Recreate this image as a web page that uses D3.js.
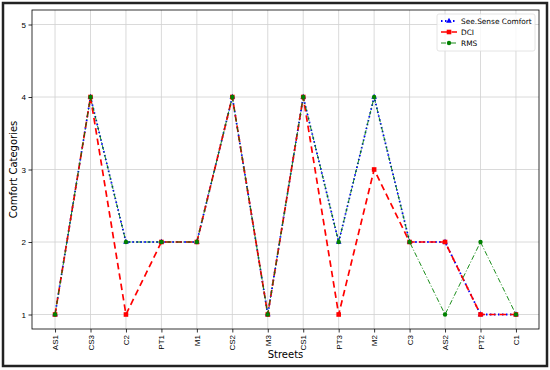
<!DOCTYPE html>
<html>
<head>
<meta charset="utf-8">
<script src="https://cdn.jsdelivr.net/npm/d3@7"></script>
<style>
  body { margin: 0; background: #fff; }
  svg { font-family: "DejaVu Sans", sans-serif; }
</style>
</head>
<body>
<script>
var streets = ["AS1", "CS3", "C2", "PT1", "M1", "CS2", "M3", "CS1", "PT3", "M2", "C3", "AS2", "PT2", "C1"];
var seeSense = [1, 4, 2, 2, 2, 4, 1, 4, 2, 4, 2, 2, 1, 1];
var dci = [1, 4, 1, 2, 2, 4, 1, 4, 1, 3, 2, 2, 1, 1];
var rms = [1, 4, 2, 2, 2, 4, 1, 4, 2, 4, 2, 1, 2, 1];
var yTicks = [1, 2, 3, 4, 5];

var width = 550, height = 370;
var margin = {left: 32, right: 11, top: 10, bottom: 41};

var svg = d3.select("body").append("svg")
    .attr("width", width)
    .attr("height", height);

// outer frame
svg.append("rect")
    .attr("x", 3).attr("y", 3)
    .attr("width", width - 6).attr("height", height - 7)
    .attr("fill", "none")
    .attr("stroke", "#222")
    .attr("stroke-width", 2.5);

var x = d3.scaleLinear()
    .domain([-0.65, streets.length - 1 + 0.65])
    .range([margin.left, width - margin.right]);
var y = d3.scaleLinear()
    .domain([0.8, 5.2])
    .range([height - margin.bottom, margin.top]);

var g = svg.append("g");

// grid
g.selectAll("line.vgrid").data(streets).enter().append("line")
    .attr("x1", function (d, i) { return x(i); })
    .attr("x2", function (d, i) { return x(i); })
    .attr("y1", y.range()[0]).attr("y2", y.range()[1])
    .attr("stroke", "#d0d0d0").attr("stroke-width", 0.8);
g.selectAll("line.hgrid").data(yTicks).enter().append("line")
    .attr("y1", function (d) { return y(d); })
    .attr("y2", function (d) { return y(d); })
    .attr("x1", x.range()[0]).attr("x2", x.range()[1])
    .attr("stroke", "#d0d0d0").attr("stroke-width", 0.8);

// axes
var xAxis = g.append("g")
    .attr("transform", "translate(0," + y.range()[0] + ")")
    .call(d3.axisBottom(x).tickValues(d3.range(streets.length))
        .tickFormat(function (i) { return streets[i]; })
        .tickSize(3.5).tickSizeOuter(0));
xAxis.selectAll("text")
    .attr("transform", "rotate(-90)")
    .attr("text-anchor", "end")
    .attr("x", -6).attr("y", 0).attr("dy", "0.32em")
    .style("font-size", "8px").attr("fill", "#000");

var yAxis = g.append("g")
    .attr("transform", "translate(" + x.range()[0] + ",0)")
    .call(d3.axisLeft(y).tickValues(yTicks).tickFormat(d3.format("d"))
        .tickSize(3.5).tickSizeOuter(0));
yAxis.selectAll("text").style("font-size", "8px").attr("fill", "#000").attr("x", -6);

[xAxis, yAxis].forEach(function (a) {
    a.select(".domain").remove();
    a.selectAll(".tick line").attr("stroke", "#000").attr("stroke-width", 0.8);
});

// plot border
g.append("rect")
    .attr("x", x.range()[0]).attr("y", y.range()[1])
    .attr("width", x.range()[1] - x.range()[0])
    .attr("height", y.range()[0] - y.range()[1])
    .attr("fill", "none").attr("stroke", "#000").attr("stroke-width", 0.8);

// labels
svg.append("text")
    .attr("x", (x.range()[0] + x.range()[1]) / 2)
    .attr("y", 358)
    .attr("text-anchor", "middle")
    .style("font-size", "10px")
    .text("Streets");
svg.append("text")
    .attr("transform", "translate(17," + (y.range()[0] + y.range()[1]) / 2 + ") rotate(-90)")
    .attr("text-anchor", "middle")
    .style("font-size", "10px")
    .text("Comfort Categories");

var line = d3.line()
    .x(function (d, i) { return x(i); })
    .y(function (d) { return y(d); });

var series = [
    {name: "See.Sense Comfort", values: seeSense, color: "#0000ff", dash: "1.5,2.5", width: 1.8, marker: "triangle"},
    {name: "DCI", values: dci, color: "#ff0000", dash: "6.5,4", width: 1.7, marker: "square"},
    {name: "RMS", values: rms, color: "#008000", dash: "5,2,1,2", width: 0.9, marker: "circle"}
];

function drawMarker(sel, type, color) {
    if (type === "triangle") {
        sel.append("path").attr("d", d3.symbol(d3.symbolTriangle, 14)()).attr("fill", color);
    } else if (type === "square") {
        sel.append("rect").attr("x", -2.3).attr("y", -2.3).attr("width", 4.6).attr("height", 4.6).attr("fill", color);
    } else {
        sel.append("circle").attr("r", 2.2).attr("fill", color);
    }
}

series.forEach(function (s) {
    g.append("path")
        .datum(s.values)
        .attr("d", line)
        .attr("fill", "none")
        .attr("stroke", s.color)
        .attr("stroke-width", s.width)
        .attr("stroke-dasharray", s.dash);
    g.selectAll(null).data(s.values).enter().append("g")
        .attr("transform", function (d, i) { return "translate(" + x(i) + "," + y(d) + ")"; })
        .each(function () { drawMarker(d3.select(this), s.marker, s.color); });
});

// legend
var lg = svg.append("g").attr("transform", "translate(437,14)");
lg.append("rect")
    .attr("width", 98).attr("height", 37).attr("rx", 2)
    .attr("fill", "#fff").attr("fill-opacity", 0.8)
    .attr("stroke", "#ddd").attr("stroke-width", 0.8);
series.forEach(function (s, i) {
    var row = lg.append("g").attr("transform", "translate(0," + (7 + i * 11) + ")");
    row.append("line")
        .attr("x1", 4).attr("x2", 20)
        .attr("stroke", s.color).attr("stroke-width", s.width)
        .attr("stroke-dasharray", s.dash);
    var m = row.append("g").attr("transform", "translate(12,0)");
    drawMarker(m, s.marker, s.color);
    row.append("text")
        .attr("x", 24).attr("dy", "0.35em")
        .style("font-size", "7.4px")
        .text(s.name);
});
</script>
</body>
</html>
